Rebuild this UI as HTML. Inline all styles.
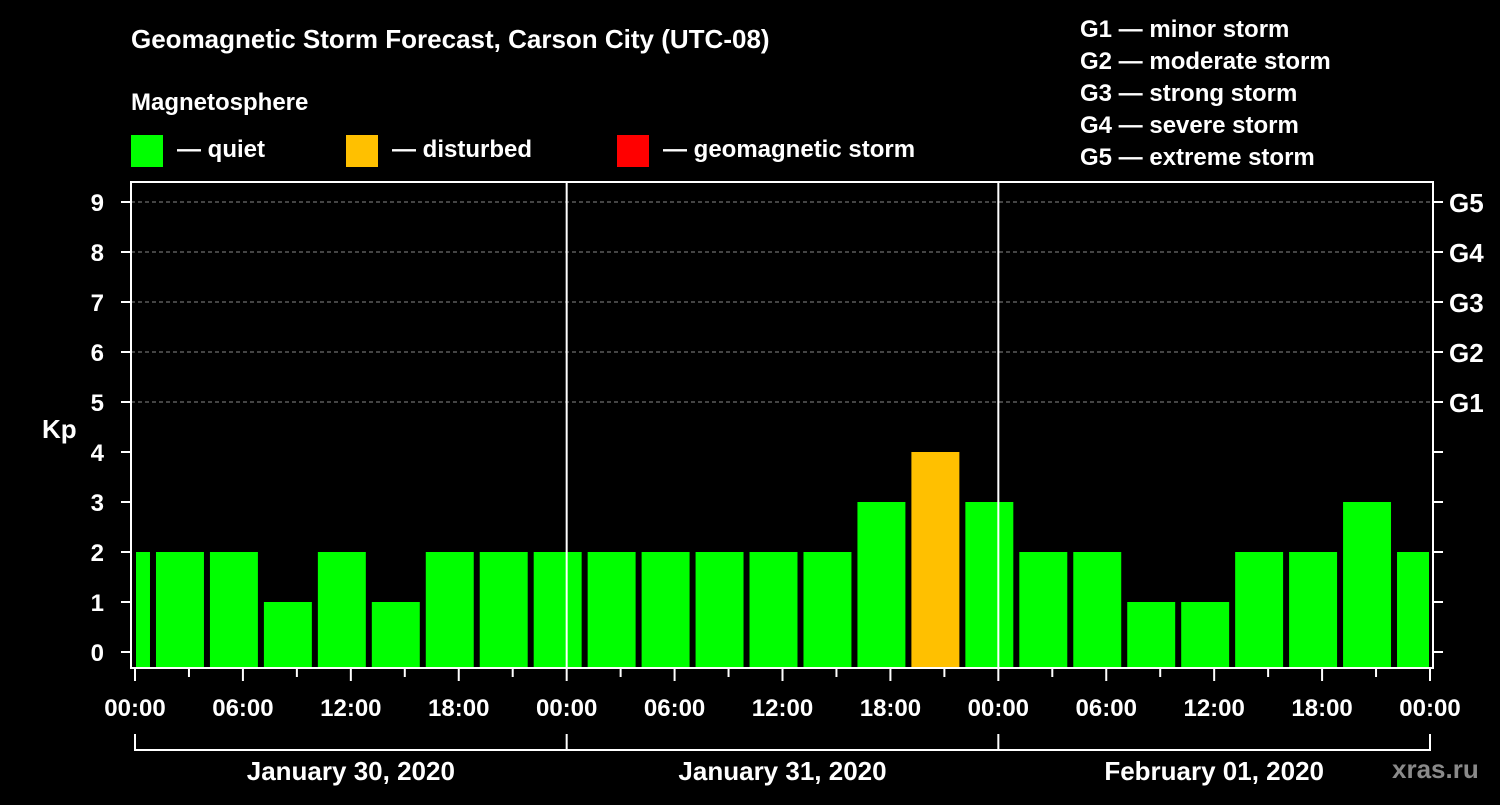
<!DOCTYPE html>
<html><head><meta charset="utf-8"><style>
body{margin:0;background:#000;width:1500px;height:800px;overflow:hidden}
svg text{font-family:"Liberation Sans",Arial,sans-serif;font-weight:bold;fill:#fff}
</style></head><body>
<svg id="c" width="1500" height="800">
<text x="131" y="48" font-size="26">Geomagnetic Storm Forecast, Carson City (UTC-08)</text>
<text x="131" y="110" font-size="24">Magnetosphere</text>
<g><rect x="131" y="135" width="32" height="32" fill="#00ff00"/><text x="177" y="157" font-size="24">— quiet</text></g>
<g><rect x="346" y="135" width="32" height="32" fill="#ffc000"/><text x="392" y="157" font-size="24">— disturbed</text></g>
<g><rect x="617" y="135" width="32" height="32" fill="#ff0000"/><text x="663" y="157" font-size="24">— geomagnetic storm</text></g>
<g font-size="24">
<text x="1080" y="37">G1 — minor storm</text>
<text x="1080" y="69">G2 — moderate storm</text>
<text x="1080" y="101">G3 — strong storm</text>
<text x="1080" y="133">G4 — severe storm</text>
<text x="1080" y="165">G5 — extreme storm</text>
</g>
<text x="42" y="438" font-size="26">Kp</text>
<text x="1392" y="778" font-size="26" fill="#888" style="fill:#8a8a8a">xras.ru</text>
<g id="grid"></g><g id="bars"></g><g id="axes"></g>
</svg>
<script>
const binStartHours=[-2,1,4,7,10,13,16,19,22,25,28,31,34,37,40,43,46,49,52,55,58,61,64,67,70];
const kpValues=[2,2,2,1,2,1,2,2,2,2,2,2,2,2,3,4,3,2,2,1,1,2,2,3,2];
const yTicks=[0,1,2,3,4,5,6,7,8,9];
const gLabels=["","","","","","G1","G2","G3","G4","G5"];
const xTickLabels=["00:00","06:00","12:00","18:00","00:00","06:00","12:00","18:00","00:00","06:00","12:00","18:00","00:00"];
const dayLabels=["January 30, 2020","January 31, 2020","February 01, 2020"];
const NS="http://www.w3.org/2000/svg";
const L=131,R=1433,T=182,B=668;
const x=h=>135+h*(1430-135)/72;
const y=v=>652-v*50;
function mk(tag,attrs,parent,txt){const e=document.createElementNS(NS,tag);for(const k in attrs)e.setAttribute(k,attrs[k]);if(txt!==undefined)e.textContent=txt;document.getElementById(parent).appendChild(e);return e;}
yTicks.forEach((v,i)=>{
 if(v>=5){const g=mk('line',{x1:L,x2:R,y1:y(v),y2:y(v),stroke:'#888','stroke-dasharray':'4,3','stroke-width':1},'grid');
 
 }
 const t=mk('text',{x:104,y:y(v)+9,'font-size':24,'text-anchor':'end'},'axes',String(v));
 
 
 mk('line',{x1:121,x2:L,y1:y(v),y2:y(v),stroke:'#fff','stroke-width':2},'axes');
 mk('line',{x1:R,x2:1443,y1:y(v),y2:y(v),stroke:'#fff','stroke-width':2},'axes');
 if(gLabels[i]){const gl=mk('text',{x:1449,y:y(v)+10,'font-size':26},'axes',gLabels[i]);
 
 }
});
binStartHours.forEach((h,i)=>{
 const v=kpValues[i];
 let x0=Math.max(x(h)+3,136),x1=Math.min(x(h+3)-3,1429);
 const col=v>=5?'#ff0000':(v>=4?'#ffc000':'#00ff00');
 const r=mk('rect',{x:x0,y:y(v),width:x1-x0,height:B-1-y(v),fill:col},'bars');
 
 
});
for(let d=1;d<3;d++){mk('line',{x1:x(d*24),x2:x(d*24),y1:T,y2:B,stroke:'#fff','stroke-width':2},'axes');}
const f=mk('rect',{x:L,y:T,width:R-L,height:B-T,fill:'none',stroke:'#fff','stroke-width':2},'axes');


for(let h=0;h<=72;h+=3){mk('line',{x1:x(h),x2:x(h),y1:B,y2:h%6==0?681:677,stroke:'#fff','stroke-width':2},'axes');}
xTickLabels.forEach((s,i)=>{const t=mk('text',{x:x(i*6),y:716,'font-size':24,'text-anchor':'middle'},'axes',s);
 
 });
mk('path',{d:`M${x(0)} 734V750H${x(72)}V734M${x(24)} 734V750M${x(48)} 734V750`,stroke:'#fff','stroke-width':2,fill:'none'},'axes');
dayLabels.forEach((s,i)=>{const t=mk('text',{x:x(i*24+12),y:780,'font-size':26,'text-anchor':'middle'},'axes',s);
 
 });
</script>
</body></html>
